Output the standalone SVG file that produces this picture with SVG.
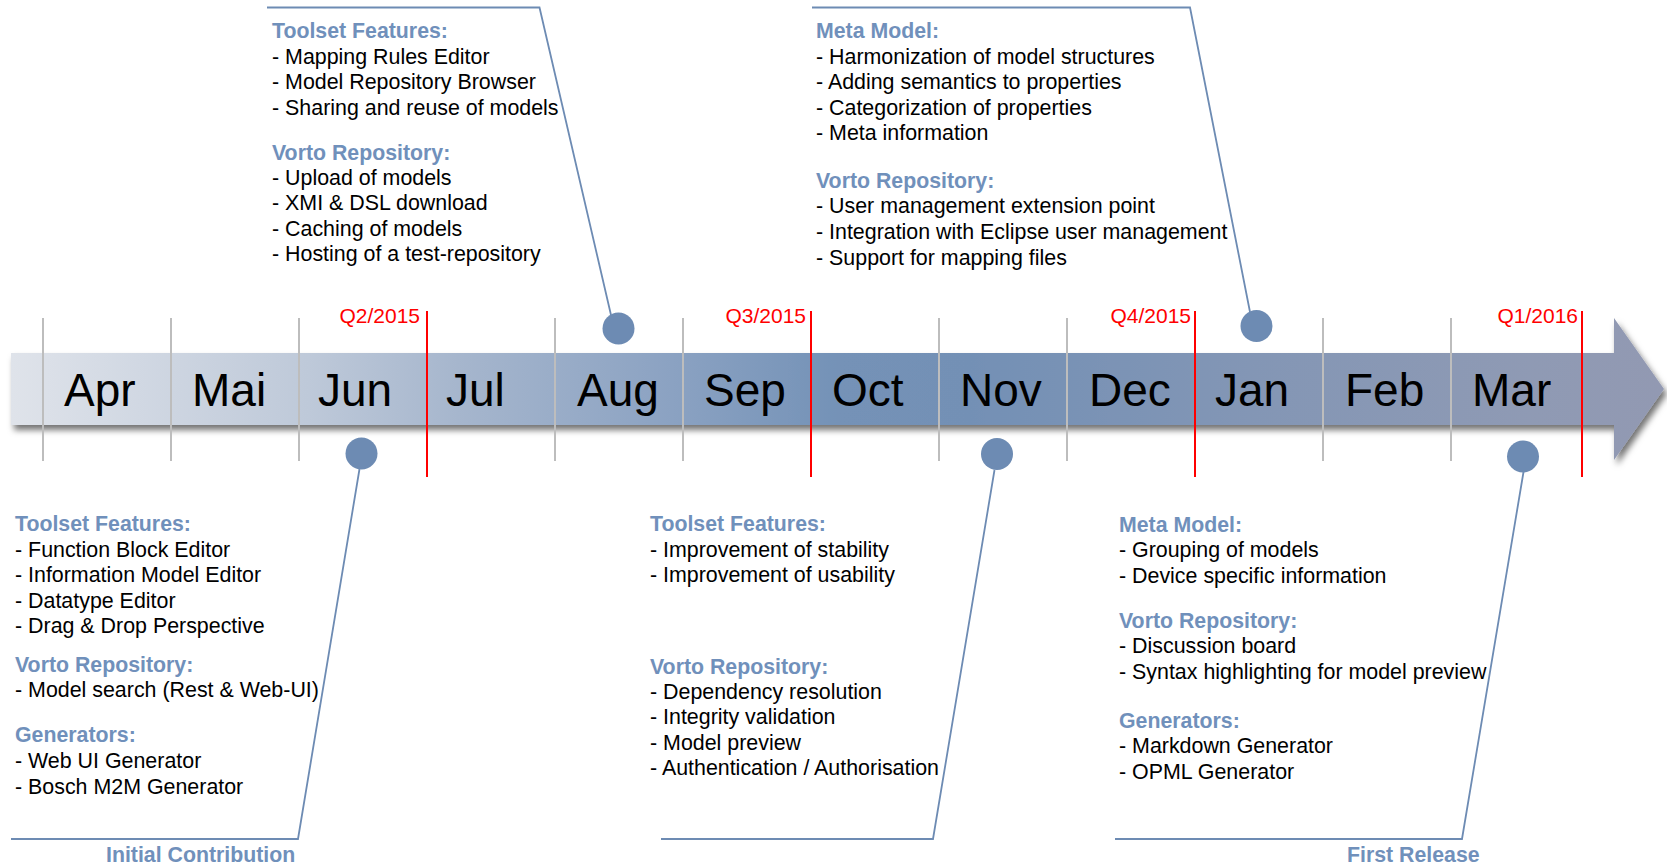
<svg xmlns="http://www.w3.org/2000/svg" width="1667" height="863" viewBox="0 0 1667 863">
<defs>
<linearGradient id="bandGrad" gradientUnits="userSpaceOnUse" x1="11" y1="0" x2="1664" y2="0">
<stop offset="0" stop-color="#dfe3ea"/>
<stop offset="0.18" stop-color="#bec9d9"/>
<stop offset="0.27" stop-color="#a6b6cd"/>
<stop offset="0.40" stop-color="#8ba2c2"/>
<stop offset="0.50" stop-color="#7492b7"/>
<stop offset="0.58" stop-color="#7390b5"/>
<stop offset="0.75" stop-color="#8396b5"/>
<stop offset="0.92" stop-color="#8f9ab4"/>
<stop offset="1" stop-color="#9299b2"/>
</linearGradient>
<filter id="shadow" x="-5%" y="-30%" width="110%" height="160%">
<feDropShadow dx="3" dy="5" stdDeviation="3" flood-color="#000" flood-opacity="0.55"/>
</filter>
<style>
.month{font-family:"Liberation Sans",Arial,sans-serif;font-size:46px;fill:#000}
.q{font-family:"Liberation Sans",Arial,sans-serif;font-size:21px;fill:#ff0000;text-anchor:end}
.h{font-family:"Liberation Sans",Arial,sans-serif;font-size:21.3px;font-weight:bold;fill:#7090bb}
.t{font-family:"Liberation Sans",Arial,sans-serif;font-size:21.4px;fill:#000}
.div{stroke:#bdbdbd;stroke-width:2}
.red{stroke:#ff0000;stroke-width:2}
.lead{fill:none;stroke:#6d8bb3;stroke-width:1.8}
.dot{fill:#6d8bb3}
</style>
</defs>
<rect width="1667" height="863" fill="#fff"/>

<g id="timeline">
<polygon points="11,353 1614,353 1614,318 1664,389 1614,460 1614,425 11,425" fill="url(#bandGrad)" filter="url(#shadow)"/>
</g>

<g id="month-dividers">
<line class="div" x1="43" y1="318" x2="43" y2="461"/>
<line class="div" x1="171" y1="318" x2="171" y2="461"/>
<line class="div" x1="299" y1="318" x2="299" y2="461"/>
<line class="div" x1="555" y1="318" x2="555" y2="461"/>
<line class="div" x1="683" y1="318" x2="683" y2="461"/>
<line class="div" x1="939" y1="318" x2="939" y2="461"/>
<line class="div" x1="1067" y1="318" x2="1067" y2="461"/>
<line class="div" x1="1323" y1="318" x2="1323" y2="461"/>
<line class="div" x1="1451" y1="318" x2="1451" y2="461"/>
</g>

<g id="months">
<text class="month" x="64" y="406">Apr</text>
<text class="month" x="192" y="406">Mai</text>
<text class="month" x="318" y="406">Jun</text>
<text class="month" x="446" y="406">Jul</text>
<text class="month" x="577" y="406">Aug</text>
<text class="month" x="704" y="406">Sep</text>
<text class="month" x="832" y="406">Oct</text>
<text class="month" x="960" y="406">Nov</text>
<text class="month" x="1089" y="406">Dec</text>
<text class="month" x="1215" y="406">Jan</text>
<text class="month" x="1345" y="406">Feb</text>
<text class="month" x="1472" y="406">Mar</text>
</g>

<g id="quarters">
<line class="red" x1="427" y1="311" x2="427" y2="477"/>
<text class="q" x="420" y="323">Q2/2015</text>
<line class="red" x1="811" y1="311" x2="811" y2="477"/>
<text class="q" x="806" y="323">Q3/2015</text>
<line class="red" x1="1195" y1="311" x2="1195" y2="477"/>
<text class="q" x="1191" y="323">Q4/2015</text>
<line class="red" x1="1582" y1="311" x2="1582" y2="477"/>
<text class="q" x="1578" y="323">Q1/2016</text>
</g>

<g id="connectors">
<polyline class="lead" points="359.5,469 298,839 11,839"/>
<polyline class="lead" points="267,7.5 539.5,7.5 611,315"/>
<polyline class="lead" points="994.5,470 933,839 661,839"/>
<polyline class="lead" points="812,7.5 1190,7.5 1250,312"/>
<polyline class="lead" points="1523.5,472 1462,839 1115,839"/>
</g>

<g id="milestone-jun">
<circle class="dot" cx="361.5" cy="453.5" r="16"/>
<text class="h" x="15" y="531">Toolset Features:</text>
<text class="t" x="15" y="556.5">- Function Block Editor</text>
<text class="t" x="15" y="582">- Information Model Editor</text>
<text class="t" x="15" y="607.5">- Datatype Editor</text>
<text class="t" x="15" y="633">- Drag &amp; Drop Perspective</text>
<text class="h" x="15" y="671.5">Vorto Repository:</text>
<text class="t" x="15" y="697">- Model search (Rest &amp; Web-UI)</text>
<text class="h" x="15" y="742">Generators:</text>
<text class="t" x="15" y="768">- Web UI Generator</text>
<text class="t" x="15" y="793.5">- Bosch M2M Generator</text>
<text class="h" x="106" y="862">Initial Contribution</text>
</g>

<g id="milestone-aug">
<circle class="dot" cx="618.5" cy="328.5" r="16"/>
<text class="h" x="272" y="37.5">Toolset Features:</text>
<text class="t" x="272" y="63.5">- Mapping Rules Editor</text>
<text class="t" x="272" y="89">- Model Repository Browser</text>
<text class="t" x="272" y="114.5">- Sharing and reuse of models</text>
<text class="h" x="272" y="160">Vorto Repository:</text>
<text class="t" x="272" y="184.5">- Upload of models</text>
<text class="t" x="272" y="210">- XMI &amp; DSL download</text>
<text class="t" x="272" y="235.5">- Caching of models</text>
<text class="t" x="272" y="261">- Hosting of a test-repository</text>
</g>

<g id="milestone-nov">
<circle class="dot" cx="997" cy="454" r="16"/>
<text class="h" x="650" y="531">Toolset Features:</text>
<text class="t" x="650" y="556.5">- Improvement of stability</text>
<text class="t" x="650" y="582">- Improvement of usability</text>
<text class="h" x="650" y="673.5">Vorto Repository:</text>
<text class="t" x="650" y="698.5">- Dependency resolution</text>
<text class="t" x="650" y="724">- Integrity validation</text>
<text class="t" x="650" y="749.5">- Model preview</text>
<text class="t" x="650" y="775">- Authentication / Authorisation</text>
</g>

<g id="milestone-jan">
<circle class="dot" cx="1256.5" cy="326" r="16"/>
<text class="h" x="816" y="37.5">Meta Model:</text>
<text class="t" x="816" y="63.5">- Harmonization of model structures</text>
<text class="t" x="816" y="89">- Adding semantics to properties</text>
<text class="t" x="816" y="114.5">- Categorization of properties</text>
<text class="t" x="816" y="140">- Meta information</text>
<text class="h" x="816" y="187.5">Vorto Repository:</text>
<text class="t" x="816" y="212.5">- User management extension point</text>
<text class="t" x="816" y="238.5">- Integration with Eclipse user management</text>
<text class="t" x="816" y="264.5">- Support for mapping files</text>
</g>

<g id="milestone-mar">
<circle class="dot" cx="1523" cy="456.5" r="16"/>
<text class="h" x="1119" y="531.5">Meta Model:</text>
<text class="t" x="1119" y="557">- Grouping of models</text>
<text class="t" x="1119" y="582.5">- Device specific information</text>
<text class="h" x="1119" y="627.5">Vorto Repository:</text>
<text class="t" x="1119" y="653">- Discussion board</text>
<text class="t" x="1119" y="679">- Syntax highlighting for model preview</text>
<text class="h" x="1119" y="727.5">Generators:</text>
<text class="t" x="1119" y="753">- Markdown Generator</text>
<text class="t" x="1119" y="778.5">- OPML Generator</text>
<text class="h" x="1347" y="862">First Release</text>
</g>
</svg>
